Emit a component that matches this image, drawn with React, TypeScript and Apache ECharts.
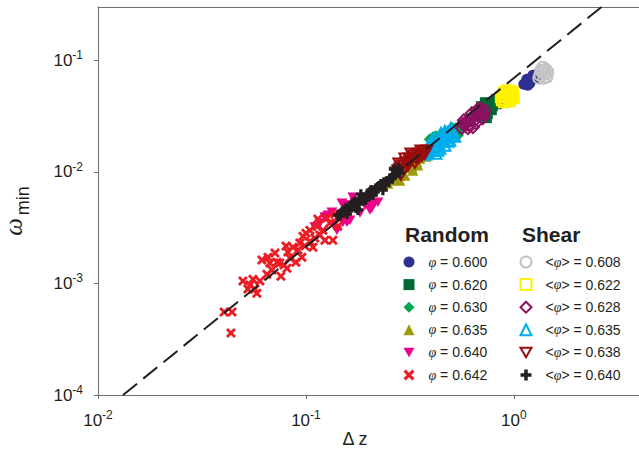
import React, { useEffect, useRef } from 'react';
import * as echarts from 'echarts';

// ---- Data (Δz, ω_min) ----
const rand600: number[][] = [[1.142, 0.0635], [1.181, 0.0662], [1.22, 0.069], [1.262, 0.0719], [1.29, 0.075], [1.117, 0.061], [1.155, 0.0676], [1.194, 0.0622], [1.234, 0.0734], [1.276, 0.069], [1.168, 0.0597]];
const rand620: number[][] = [[0.7092, 0.0357], [0.7334, 0.03873], [0.767, 0.0412], [0.8014, 0.04296], [0.8283, 0.04035], [0.7838, 0.0357], [0.7499, 0.03284], [0.7171, 0.03154], [0.8378, 0.0438], [0.694, 0.03873], [0.7256, 0.04207], [0.7584, 0.03718], [0.7926, 0.03873], [0.8193, 0.04477], [0.8472, 0.0412], [0.7416, 0.03027], [0.7012, 0.03352]];
const rand630: number[][] = [[0.3945, 0.01963], [0.4221, 0.02085], [0.4508, 0.02173], [0.4815, 0.02312], [0.5089, 0.02462], [0.532, 0.02264], [0.5445, 0.02566], [0.52, 0.02042], [0.4764, 0.02004], [0.4315, 0.0192], [0.5623, 0.02673], [0.4083, 0.02042], [0.441, 0.0213], [0.466, 0.02218], [0.4977, 0.0236], [0.526, 0.02462], [0.55, 0.0236], [0.538, 0.0213]];
const rand635: number[][] = [[0.2479, 0.00792], [0.262, 0.00877], [0.2737, 0.00993], [0.2895, 0.01079], [0.2993, 0.00933], [0.3162, 0.01196], [0.3268, 0.01035], [0.3342, 0.01325], [0.3454, 0.0115], [0.365, 0.0156], [0.3773, 0.0138], [0.3859, 0.01663], [0.3532, 0.01325], [0.3094, 0.0127], [0.399, 0.0156], [0.2563, 0.00842], [0.2678, 0.00895], [0.283, 0.00933], [0.296, 0.01102], [0.3233, 0.01102], [0.3418, 0.01222], [0.3613, 0.0141], [0.3773, 0.0156], [0.3945, 0.01698], [0.283, 0.00842]];
const rand640: number[][] = [[0.154, 0.00503], [0.172, 0.00535], [0.2032, 0.00454], [0.21, 0.00503], [0.182, 0.00427], [0.1575, 0.00354], [0.1409, 0.003], [0.1277, 0.00409], [0.1104, 0.0032], [0.1683, 0.00593], [0.149, 0.00524], [0.2076, 0.00473], [0.2032, 0.00557], [0.1629, 0.00369], [0.1507, 0.00354], [0.1334, 0.00435], [0.1234, 0.00393], [0.1167, 0.00347], [0.1923, 0.00503], [0.2219, 0.00535], [0.1365, 0.00333]];
const rand642: number[][] = [[0.0436, 0.000359], [0.0404, 0.000553], [0.0441, 0.000553], [0.0498, 0.00105], [0.0538, 0.000966], [0.0569, 0.000889], [0.0556, 0.00109], [0.0601, 0.00105], [0.0526, 0.000889], [0.0581, 0.000818], [0.0614, 0.00162], [0.0657, 0.00172], [0.071, 0.00187], [0.0726, 0.00155], [0.0687, 0.00132], [0.0758, 0.00116], [0.0784, 0.00146], [0.0811, 0.00137], [0.0838, 0.00169], [0.0866, 0.00211], [0.0895, 0.00155], [0.0935, 0.0023], [0.0957, 0.00172], [0.0968, 0.00265], [0.1, 0.00282], [0.1045, 0.00239], [0.1045, 0.003], [0.1081, 0.00211], [0.1129, 0.00326], [0.1167, 0.00271], [0.1207, 0.003], [0.1261, 0.00385], [0.1303, 0.00347], [0.1348, 0.00244], [0.1377, 0.00418], [0.1425, 0.00393], [0.1473, 0.00418], [0.1425, 0.00326], [0.1234, 0.00244], [0.1104, 0.00255], [0.0916, 0.00199], [0.0819, 0.00191], [0.075, 0.00152], [0.0671, 0.00152], [0.0649, 0.00121], [0.0802, 0.00216], [0.0989, 0.00216], [0.1142, 0.00377]];

const shear608: number[][] = [[1.334, 0.0734], [1.363, 0.0782], [1.394, 0.0814], [1.41, 0.075], [1.319, 0.069], [1.348, 0.0814], [1.379, 0.0866], [1.425, 0.083], [1.457, 0.0782], [1.441, 0.0705], [1.394, 0.069]];
const shear622: number[][] = [[0.8756, 0.0438], [0.9052, 0.04766], [0.9357, 0.05058], [0.9673, 0.05273], [0.9781, 0.04766], [0.9152, 0.0438], [0.8853, 0.0486], [0.9462, 0.04477], [0.866, 0.04667], [0.8953, 0.05164], [0.9254, 0.0539], [0.957, 0.04966], [0.989, 0.05164], [0.8953, 0.04207], [0.957, 0.04296], [1.0, 0.04571]];
const shear628: number[][] = [[0.5623, 0.02462], [0.5881, 0.02673], [0.6146, 0.029], [0.6422, 0.0309], [0.6711, 0.03284], [0.7012, 0.03423], [0.7256, 0.0357], [0.6012, 0.02462], [0.6564, 0.02727], [0.7092, 0.03027], [0.6283, 0.03352], [0.5754, 0.029], [0.686, 0.03718], [0.5689, 0.02673], [0.5943, 0.02843], [0.6214, 0.03027], [0.65, 0.029], [0.6786, 0.03154], [0.694, 0.03494], [0.7171, 0.03284], [0.6637, 0.0357], [0.6076, 0.0262], [0.6353, 0.02512]];
const shear635: number[][] = [[0.3773, 0.01439], [0.3945, 0.0156], [0.4083, 0.01698], [0.4221, 0.01806], [0.441, 0.0192], [0.456, 0.02042], [0.471, 0.02173], [0.4867, 0.02264], [0.503, 0.0236], [0.4315, 0.0156], [0.466, 0.0173], [0.492, 0.0192], [0.4035, 0.0192], [0.4458, 0.02218], [0.3859, 0.01663], [0.52, 0.02085], [0.4221, 0.01468], [0.3859, 0.015], [0.399, 0.01629], [0.4121, 0.0156], [0.4266, 0.01698], [0.4361, 0.01806], [0.4508, 0.01883], [0.4607, 0.01963], [0.4764, 0.02042], [0.492, 0.0213], [0.5089, 0.02218], [0.4815, 0.01883], [0.441, 0.01629], [0.417, 0.02004], [0.466, 0.02312], [0.4977, 0.02462]];
const shear638: number[][] = [[0.271, 0.00993], [0.283, 0.01079], [0.2927, 0.0115], [0.3027, 0.01222], [0.3162, 0.0127], [0.3268, 0.01352], [0.338, 0.01325], [0.3532, 0.01468], [0.3693, 0.01531], [0.3818, 0.0156], [0.3094, 0.01125], [0.3342, 0.01196], [0.2862, 0.00933], [0.3494, 0.01325], [0.2993, 0.01325], [0.3198, 0.01468], [0.28, 0.01196], [0.3613, 0.0138], [0.2768, 0.01035], [0.2895, 0.01125], [0.296, 0.01035], [0.306, 0.01196], [0.3129, 0.01325], [0.3233, 0.0127], [0.3307, 0.0141], [0.3418, 0.01439], [0.3572, 0.0156], [0.3733, 0.01439]];
const shear640: number[][] = [[0.1425, 0.00409], [0.149, 0.00435], [0.1557, 0.00473], [0.1629, 0.00493], [0.1683, 0.00524], [0.1759, 0.00524], [0.182, 0.00569], [0.188, 0.00593], [0.1965, 0.00605], [0.2032, 0.00658], [0.21, 0.00618], [0.2172, 0.00714], [0.2244, 0.00745], [0.2345, 0.00685], [0.2371, 0.00808], [0.2451, 0.00825], [0.2535, 0.00877], [0.2591, 0.00877], [0.2678, 0.00933], [0.2768, 0.01014], [0.283, 0.00972], [0.174, 0.00473], [0.1923, 0.00557], [0.2076, 0.00685], [0.2295, 0.00776], [0.1592, 0.00445], [0.2649, 0.01057], [0.1838, 0.00631], [0.1457, 0.00401], [0.1523, 0.00454], [0.1664, 0.00493], [0.172, 0.00546], [0.1798, 0.00513], [0.1859, 0.00581], [0.1943, 0.00569], [0.2009, 0.00618], [0.2053, 0.00685], [0.2146, 0.00658], [0.2219, 0.0073], [0.232, 0.00745], [0.24, 0.00776], [0.2507, 0.00808], [0.262, 0.00914], [0.271, 0.00993], [0.28, 0.01079], [0.1778, 0.00454], [0.1575, 0.00418]];

// Power-law guide line endpoints
const fitLine: number[][] = [[0.0132, 0.0001], [2.64, 0.3]];

const randomPhi = ['0.600', '0.620', '0.630', '0.635', '0.640', '0.642'];
const shearPhi = ['0.608', '0.622', '0.628', '0.635', '0.638', '0.640'];

const xTicks = [0.01, 0.1, 1];
const yTicks = [0.0001, 0.001, 0.01, 0.1];

const X_MIN = 0.01;
const X_MAX = 4;
const Y_MIN = 0.0001;
const Y_MAX = 0.3;

const DOWN_TRI = 'path://M0,0 L10,0 L5,8.66 Z';
const CROSS = 'path://M0,2 L2,0 L5,3 L8,0 L10,2 L7,5 L10,8 L8,10 L5,7 L2,10 L0,8 L3,5 Z';
const PLUS = 'path://M3.4,0 L6.6,0 L6.6,3.4 L10,3.4 L10,6.6 L6.6,6.6 L6.6,10 L3.4,10 L3.4,6.6 L0,6.6 L0,3.4 L3.4,3.4 Z';

const SANS = '"Liberation Sans", Arial, Helvetica, sans-serif';
const SERIF = '"Liberation Serif", "Times New Roman", serif';
const TXT = '#231f20';

type Spec = { data: number[][]; symbol: string; size: number; color: string; hollow: boolean };

const randomSpecs: Spec[] = [
  { data: rand600, symbol: 'circle', size: 11, color: '#2e3192', hollow: false },
  { data: rand620, symbol: 'rect', size: 10, color: '#006837', hollow: false },
  { data: rand630, symbol: 'diamond', size: 12, color: '#00a651', hollow: false },
  { data: rand635, symbol: 'triangle', size: 11, color: '#9e9a0b', hollow: false },
  { data: rand640, symbol: DOWN_TRI, size: 11, color: '#ec008c', hollow: false },
  { data: rand642, symbol: CROSS, size: 10, color: '#ed1c24', hollow: false },
];
const shearSpecs: Spec[] = [
  { data: shear608, symbol: 'circle', size: 11, color: '#c4c4c4', hollow: true },
  { data: shear622, symbol: 'rect', size: 10, color: '#fff200', hollow: true },
  { data: shear628, symbol: 'diamond', size: 12, color: '#8e1060', hollow: true },
  { data: shear635, symbol: 'triangle', size: 11, color: '#00aeef', hollow: true },
  { data: shear638, symbol: DOWN_TRI, size: 11, color: '#9b0d0d', hollow: true },
  { data: shear640, symbol: PLUS, size: 10, color: '#231f20', hollow: false },
];

const randomNames = randomPhi.map((p) => `φ = ${p}`);
const shearNames = shearPhi.map((p) => `<φ> = ${p}`);

function makeSeries(spec: Spec, name: string) {
  return {
    type: 'scatter',
    name,
    data: spec.data,
    symbol: spec.symbol,
    symbolSize: spec.size,
    symbolKeepAspect: true,
    itemStyle: spec.hollow
      ? { color: 'rgba(255,255,255,0)', borderColor: spec.color, borderWidth: 2, opacity: 1 }
      : { color: spec.color, opacity: 1 },
    emphasis: { disabled: true },
  };
}

const expLabel = (v: number) => {
  const e = Math.round(Math.log10(v));
  return `{b|10}{s|${e}}`;
};

const labelRich = {
  b: { fontSize: 17, fontFamily: SANS, color: TXT, lineHeight: 22 },
  s: { fontSize: 12, fontFamily: SANS, color: TXT, lineHeight: 12, verticalAlign: 'top' },
};

const legendFormatter = (name: string) => name.replace('φ', '{i|φ}');
const legendText = {
  fontSize: 14,
  fontFamily: SANS,
  color: TXT,
  lineHeight: 16,
  padding: [0, 0, 0, 9],
  rich: {
    i: { fontSize: 14, fontFamily: SERIF, fontStyle: 'italic', color: TXT, lineHeight: 16 },
  },
};

export default function App() {
  const ref = useRef<HTMLDivElement>(null);
  useEffect(() => {
    if (!ref.current) return;
    const chart = echarts.init(ref.current, undefined, { renderer: 'svg' });
    const axisLineStyle = { color: '#6d6e71', width: 1 };
    chart.setOption({
      animation: false,
      backgroundColor: '#ffffff',
      grid: { left: 98, right: 0, top: 7, bottom: 62, containLabel: false },
      xAxis: [
        {
          type: 'log',
          logBase: 10,
          min: X_MIN,
          max: X_MAX,
          axisLine: { show: true, lineStyle: axisLineStyle },
          axisTick: { show: true, length: 4, inside: false, lineStyle: axisLineStyle, customValues: xTicks },
          axisLabel: { show: true, margin: 14, formatter: expLabel, rich: labelRich, customValues: xTicks },
          splitLine: { show: false },
          minorTick: { show: false },
        },
        {
          type: 'log',
          logBase: 10,
          position: 'top',
          min: X_MIN,
          max: X_MAX,
          axisLine: { show: true, lineStyle: axisLineStyle },
          axisTick: { show: false },
          axisLabel: { show: false },
          splitLine: { show: false },
        },
      ],
      yAxis: {
        type: 'log',
        logBase: 10,
        min: Y_MIN,
        max: Y_MAX,
        axisLine: { show: true, lineStyle: axisLineStyle },
        axisTick: { show: true, length: 4, inside: false, lineStyle: axisLineStyle, customValues: yTicks },
        axisLabel: { show: true, margin: 15, formatter: expLabel, rich: labelRich, customValues: yTicks },
        splitLine: { show: false },
      },
      legend: [
        {
          data: randomNames,
          orient: 'vertical',
          left: 403.5,
          top: 254,
          itemWidth: 11,
          itemHeight: 11,
          itemGap: 6.6,
          formatter: legendFormatter,
          textStyle: legendText,
          selectedMode: false,
          padding: 0,
        },
        {
          data: shearNames,
          orient: 'vertical',
          left: 519.5,
          top: 254,
          itemWidth: 11,
          itemHeight: 11,
          itemGap: 6.6,
          formatter: legendFormatter,
          textStyle: legendText,
          selectedMode: false,
          padding: 0,
        },
      ],
      graphic: [
        {
          type: 'text',
          left: 405,
          top: 224,
          style: { text: 'Random', fill: TXT, fontSize: 21, fontWeight: 'bold', fontFamily: SANS },
        },
        {
          type: 'text',
          left: 522,
          top: 224,
          style: { text: 'Shear', fill: TXT, fontSize: 21, fontWeight: 'bold', fontFamily: SANS },
        },
        {
          type: 'text',
          x: 355,
          y: 439,
          style: {
            text: 'Δ z',
            fill: TXT,
            fontSize: 18,
            fontFamily: SANS,
            align: 'center',
            verticalAlign: 'middle',
            textAlign: 'center',
            textVerticalAlign: 'middle',
          },
        },
        {
          type: 'text',
          x: 13,
          y: 211,
          rotation: Math.PI / 2,
          style: {
            text: '{w|ω}{s|min}',
            align: 'center',
            verticalAlign: 'middle',
            textAlign: 'center',
            textVerticalAlign: 'middle',
            rich: {
              w: { fontSize: 25, fontFamily: SERIF, fontStyle: 'italic', fill: TXT, color: TXT, lineHeight: 25, verticalAlign: 'top', padding: [0, 3, 0, 0] },
              s: { fontSize: 18, fontFamily: SANS, fill: TXT, color: TXT, lineHeight: 18, verticalAlign: 'top', padding: [13, 0, 0, 0] },
            },
          },
        },
      ],
      series: [
        ...randomSpecs.map((s, i) => makeSeries(s, randomNames[i])),
        ...shearSpecs.map((s, i) => makeSeries(s, shearNames[i])),
        {
          type: 'line',
          name: 'fit',
          data: fitLine,
          symbol: 'none',
          lineStyle: { color: '#231f20', width: 2, type: [18, 8] },
          emphasis: { disabled: true },
          silent: true,
          z: 3,
        },
      ],
    });
    return () => chart.dispose();
  }, []);
  return (
    <div
      ref={ref}
      style={{ position: 'absolute', left: 0, top: 0, width: 639, height: 457, background: '#fff' }}
    />
  );
}
